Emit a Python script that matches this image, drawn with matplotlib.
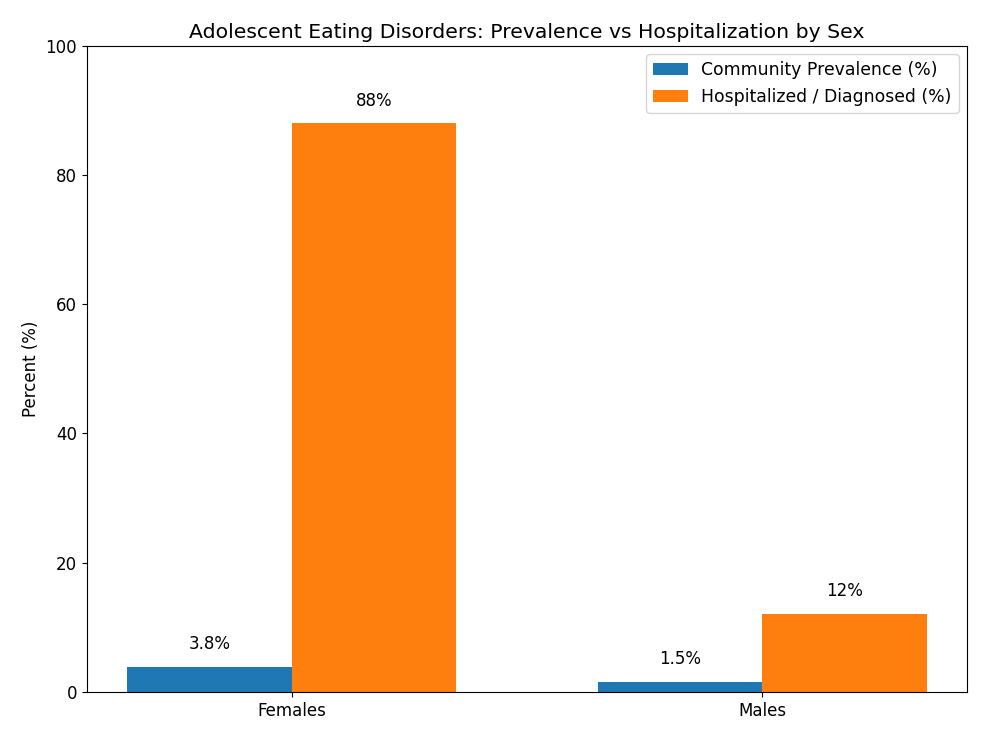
import matplotlib.pyplot as plt
import numpy as np

groups = ['Females', 'Males']
prevalence = [3.8, 1.5]
hospitalized = [88, 12]
prev_labels = ['3.8%', '1.5%']
hosp_labels = ['88%', '12%']

x = np.arange(len(groups))
width = 0.35

fig, ax = plt.subplots(figsize=(9.86, 7.4), dpi=100)
fig.subplots_adjust(left=0.088, right=0.981, top=0.938, bottom=0.065)

b1 = ax.bar(x - width / 2, prevalence, width, label='Community Prevalence (%)', color='#1f77b4')
b2 = ax.bar(x + width / 2, hospitalized, width, label='Hospitalized / Diagnosed (%)', color='#ff7f0e')

for bar, lab in zip(b1, prev_labels):
    ax.annotate(lab, (bar.get_x() + bar.get_width() / 2, bar.get_height()),
                xytext=(0, 10), textcoords='offset points', ha='center', va='bottom', fontsize=12)
for bar, lab in zip(b2, hosp_labels):
    ax.annotate(lab, (bar.get_x() + bar.get_width() / 2, bar.get_height()),
                xytext=(0, 10), textcoords='offset points', ha='center', va='bottom', fontsize=12)

ax.set_xticks(x)
ax.set_xticklabels(groups, fontsize=12)
ax.tick_params(axis='y', labelsize=12)
ax.set_ylim(0, 100)
ax.set_ylabel('Percent (%)', fontsize=12)
ax.set_title('Adolescent Eating Disorders: Prevalence vs Hospitalization by Sex', fontsize=14.7)
ax.legend(loc='upper right', fontsize=12.4)

fig.savefig('out.png')
